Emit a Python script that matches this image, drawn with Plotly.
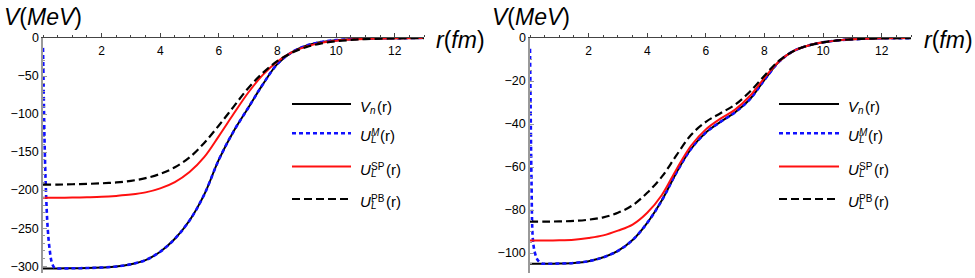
import plotly.graph_objects as go

W, H = 975, 278
FONT = "Liberation Sans, Arial, sans-serif"

# ---------------- data ----------------
r = [0, 0.5, 1, 1.5, 2, 2.5, 3, 3.5, 4, 4.5, 5, 5.5, 6, 6.5, 7, 7.5, 8, 8.5, 9, 9.5, 10, 10.5, 11, 12, 13]

# left panel
vn_left = [-303, -303, -302.8, -302.5, -301.8, -300.5, -297.5, -292, -281, -264, -240, -206, -160, -123,
           -92, -61, -34, -18.5, -9.8, -5.2, -2.8, -1.5, -0.8, -0.2, -0.05]
usp_left = [-210, -210, -209.8, -209.4, -208.8, -207.6, -205.9, -203, -197.7, -189.4, -176.2, -156.7, -129,
            -100, -72, -48.5, -30.8, -18.6, -11, -6.4, -3.7, -2.1, -1.2, -0.4, -0.1]
upb_left = [-192.9, -192.8, -192.3, -191.8, -191.1, -189.9, -187.8, -184.3, -178.7, -170, -157, -138, -115,
            -90.5, -66, -46, -30.2, -19.1, -11.8, -7.1, -4.3, -2.6, -1.5, -0.5, -0.2]
r_um_left = [0, 0.02, 0.05, 0.1, 0.16, 0.23, 0.3, 0.4, 0.5, 1, 1.5, 2, 2.5, 3, 3.5, 4, 4.5, 5, 5.5, 6, 6.5, 7,
             7.5, 8, 8.5, 9, 9.5, 10, 10.5, 11, 12, 13]
um_left = [-13, -60, -130, -200, -250, -279, -295, -302.5, -303, -302.8, -302.5, -301.8, -300.5, -297.5, -292,
           -281, -264, -240, -206, -160, -123, -92, -61, -34, -18.5, -9.8, -5.2, -2.8, -1.5, -0.8, -0.2, -0.05]

# right panel
vn_right = [-105, -105, -104.9, -104.6, -103.8, -102, -99, -94, -86, -75.5, -62.5, -51.5, -44, -39, -34.5,
            -28.5, -19.5, -11, -6, -3.5, -2, -1.1, -0.6, -0.15, -0.05]
usp_right = [-94.2, -94.2, -94.1, -93.8, -93, -91.8, -89.6, -86.8, -81.3, -73, -61, -50, -42.5, -37.5, -33.3,
             -27, -18.5, -10.8, -6, -3.5, -2, -1.1, -0.6, -0.15, -0.05]
upb_right = [-85.4, -85.4, -85.3, -85.1, -84.5, -83.4, -81.3, -77.8, -72, -64.5, -54.5, -45, -39, -35, -31,
             -25, -17.5, -10.5, -6, -3.5, -2, -1.1, -0.6, -0.15, -0.05]
r_um_right = [0, 0.02, 0.05, 0.1, 0.17, 0.25, 0.4, 0.5, 1, 1.5, 2, 2.5, 3, 3.5, 4, 4.5, 5, 5.5, 6, 6.5, 7,
              7.5, 8, 8.5, 9, 9.5, 10, 10.5, 11, 12, 13]
um_right = [-5, -30, -65, -94, -100, -103, -104.9, -105, -104.9, -104.6, -103.8, -102, -99, -94, -86, -75.5,
            -62.5, -51.5, -44, -39, -34.5, -28.5, -19.5, -11, -6, -3.5, -2, -1.1, -0.6, -0.15, -0.05]

x_ticks = [2, 4, 6, 8, 10, 12]
y_ticks_left = [0, -50, -100, -150, -200, -250, -300]
y_ticks_right = [0, -20, -40, -60, -80, -100]

# ---------------- figure ----------------
fig = go.Figure()

def add_panel(xa, ya, vn, rum, um, usp, upb):
    fig.add_trace(go.Scatter(x=r, y=vn, xaxis=xa, yaxis=ya, mode="lines", line_shape="spline",
                             line=dict(color="black", width=2), showlegend=False))
    fig.add_trace(go.Scatter(x=rum, y=um, xaxis=xa, yaxis=ya, mode="lines", line_shape="spline",
                             line=dict(color="#1010ff", width=2.6, dash="4px,3px"), showlegend=False))
    fig.add_trace(go.Scatter(x=r, y=usp, xaxis=xa, yaxis=ya, mode="lines", line_shape="spline",
                             line=dict(color="#ff1010", width=2), showlegend=False))
    fig.add_trace(go.Scatter(x=r, y=upb, xaxis=xa, yaxis=ya, mode="lines", line_shape="spline",
                             line=dict(color="black", width=2.2, dash="8px,4px"), showlegend=False))

add_panel("x", "y", vn_left, r_um_left, um_left, usp_left, upb_left)
add_panel("x2", "y2", vn_right, r_um_right, um_right, usp_right, upb_right)

ytop = 1 - 38 / H
ybot = 1 - 273 / H

def fmt(v):
    return str(v).replace("-", "\u2212")

def xaxis_def(dom, anchor):
    return dict(domain=dom, anchor=anchor, range=[0, 13], side="top", showline=True, linecolor="#444",
                linewidth=1, showgrid=False, zeroline=False, tickmode="array", tickvals=x_ticks,
                ticks="outside", ticklen=4, tickcolor="#444", ticklabelposition="inside",
                ticklabelstandoff=8, automargin=False,
                tickfont=dict(family=FONT, size=12, color="black"),
                minor=dict(tickmode="linear", tick0=0, dtick=0.5, ticks="outside", ticklen=2.5, tickcolor="#444"))

def yaxis_def(rng, tv, mdt, anchor):
    return dict(domain=[ybot, ytop], anchor=anchor, range=rng, showline=True, linecolor="#999",
                linewidth=1.5, showgrid=False, zeroline=False, tickmode="array", tickvals=tv,
                ticktext=[fmt(v) for v in tv],
                ticks="inside", ticklen=4, tickcolor="#999", automargin=False,
                tickfont=dict(family=FONT, size=12.5, color="black"),
                minor=dict(tickmode="linear", tick0=0, dtick=mdt, ticks="inside", ticklen=2.5, tickcolor="#999"))

fig.update_layout(
    width=W, height=H, margin=dict(l=0, r=0, t=0, b=0, autoexpand=False),
    paper_bgcolor="white", plot_bgcolor="white", showlegend=False,
    xaxis=xaxis_def([43 / W, 424 / W], "y"),
    yaxis=yaxis_def([-309, 0.0001], y_ticks_left, 10, "x"),
    xaxis2=xaxis_def([530 / W, 911 / W], "y2"),
    yaxis2=yaxis_def([-109.3, 0.0001], y_ticks_right, 5, "x2"),
)

# the "0" y label sits where the x axis crosses, which Plotly hides; put it back as text
for xr, yr, tv in [("x", "y", y_ticks_left), ("x2", "y2", y_ticks_right)]:
    fig.add_annotation(x=0, y=tv[0], xref=xr, yref=yr, text=fmt(tv[0]), showarrow=False,
                       xanchor="right", yanchor="middle", xshift=-3, borderpad=0,
                       font=dict(family=FONT, size=12.5, color="black"))

def px_x(p):
    return p / W

def px_y(p):
    return 1 - p / H

# axis titles
for cx, t in [(43, "<i>V</i>(<i>MeV</i>)"), (531, "<i>V</i>(<i>MeV</i>)"),
              (460, "<i>r</i>(<i>fm</i>)"), (948, "<i>r</i>(<i>fm</i>)")]:
    cy = 17 if "MeV" in t else 40
    fig.add_annotation(x=px_x(cx), y=px_y(cy), xref="paper", yref="paper", text=t, showarrow=False,
                       xanchor="center", yanchor="middle", font=dict(family=FONT, size=23, color="black"))

# legends (drawn manually)
rows = [104, 133.3, 166.5, 199]
styles = [dict(color="black", width=2), dict(color="#1010ff", width=2.6, dash="4px,3px"),
          dict(color="#ff1010", width=2), dict(color="black", width=2.2, dash="8px,4px")]
main_txt = ["<i>V</i>", "<i>U</i>", "<i>U</i>", "<i>U</i>"]
sup_txt = ["", "<i>M</i>", "SP", "PB"]
sub_txt = ["<i>n</i>", "<i>L</i>", "<i>L</i>", "<i>L</i>"]
r_off = [17, 20, 26, 26]

for lx0, lx1, tx in [(292, 351, 359), (779, 839, 847)]:
    for i, ry in enumerate(rows):
        fig.add_shape(type="line", xref="paper", yref="paper", x0=px_x(lx0), x1=px_x(lx1),
                      y0=px_y(ry), y1=px_y(ry), line=styles[i])
        fig.add_annotation(x=px_x(tx), y=px_y(ry + 2.5), xref="paper", yref="paper", text=main_txt[i],
                           showarrow=False, xanchor="left", yanchor="middle", borderpad=0,
                           font=dict(family=FONT, size=15, color="black"))
        if sup_txt[i]:
            fig.add_annotation(x=px_x(tx + 11), y=px_y(ry - 0.5), xref="paper", yref="paper", text=sup_txt[i],
                               showarrow=False, xanchor="left", yanchor="middle", borderpad=0,
                               font=dict(family=FONT, size=10, color="black"))
        fig.add_annotation(x=px_x(tx + (11 if i else 10)), y=px_y(ry + 6.5), xref="paper", yref="paper",
                           text=sub_txt[i], showarrow=False, xanchor="left", yanchor="middle", borderpad=0,
                           font=dict(family=FONT, size=10, color="black"))
        fig.add_annotation(x=px_x(tx + r_off[i]), y=px_y(ry + 2.5), xref="paper", yref="paper", text="(r)",
                           showarrow=False, xanchor="left", yanchor="middle", borderpad=0,
                           font=dict(family=FONT, size=15, color="black"))

fig.write_html("out.html")
